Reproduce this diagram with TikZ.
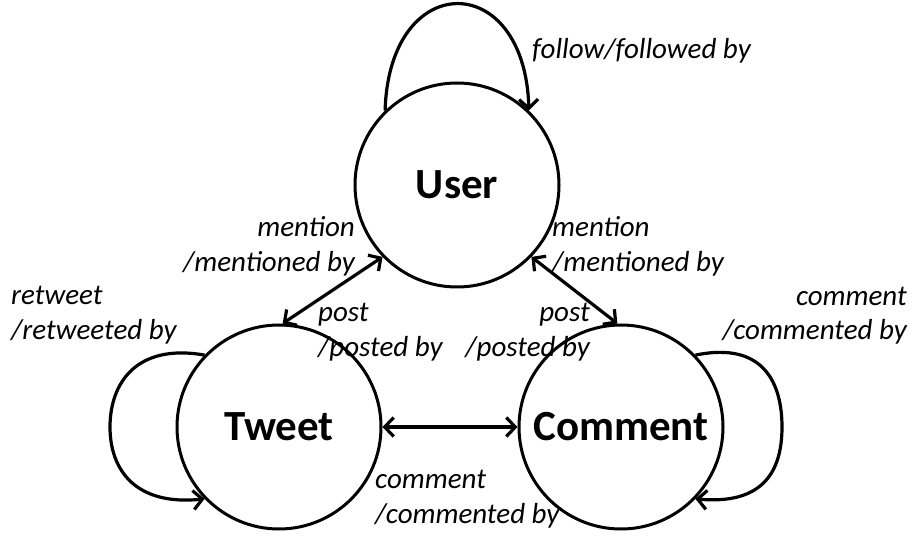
\documentclass[tikz,border=0pt]{standalone}
\usepackage{fontspec}
\setmainfont{Carlito}
\usetikzlibrary{arrows.meta}
\begin{document}
\begin{tikzpicture}[x=1pt,y=-1pt,
  state/.style={circle, draw, line width=3pt, minimum size=204pt, inner sep=0pt,
    font=\fontsize{43}{50}\selectfont\bfseries},
  link/.style={line width=3.2pt, {Straight Barb[length=9pt,width=19pt]}-{Straight Barb[length=9pt,width=19pt]}},
  selfloop/.style={line width=3.2pt, -{Straight Barb[length=9pt,width=19pt]}},
  lbl/.style={font=\fontsize{29}{35}\selectfont\itshape, inner sep=0pt}]

\useasboundingbox (0,0) rectangle (913,537);

% states
\node[state] (user) at (457,185) {User};
\node[state] (tweet) at (279,427) {Tweet};
\node[state] (comment) at (621,427) {Comment};

% relations between states
\draw[link] (tweet.88) -- (user.224);
\draw[link] (comment.92) -- (user.316);
\draw[link] (tweet.east) -- (comment.west);

% self relations
\draw[selfloop] (user.134) .. controls +(4,-142) and +(-4,-142) .. (user.46);

\coordinate (tl) at (110,427);
\draw[selfloop] (tweet.136) .. controls +(-68,-12) and +(0,-44) .. (tl)
  .. controls +(0,44) and +(-68,7) .. (tweet.224);

\coordinate (cr) at (782,427);
\draw[selfloop] (comment.44) .. controls +(68,-14) and +(0,-44) .. (cr)
  .. controls +(0,44) and +(68,6) .. (comment.316);

% relation labels (base = baseline of the last line)
\node[lbl, anchor=base west] (lfollow) at (532,59) {follow/followed by};
\node[lbl, align=right, anchor=base east] (lmentionl) at (355,272) {mention\\/mentioned by};
\node[lbl, align=left, anchor=base west] (lmentionr) at (552,272) {mention\\/mentioned by};
\node[lbl, align=left, anchor=base west] (lpostl) at (318,356) {post\\/posted by};
\node[lbl, align=right, anchor=base east] (lpostr) at (590,356) {post\\/posted by};
\node[lbl, align=left, anchor=base west] (lretweet) at (11,339) {retweet\\/retweeted by};
\node[lbl, align=right, anchor=base east] (lcommentr) at (907,340) {comment\\/commented by};
\node[lbl, align=left, anchor=base west] (lcommentb) at (375,523) {comment\\/commented by};
\end{tikzpicture}
\end{document}
